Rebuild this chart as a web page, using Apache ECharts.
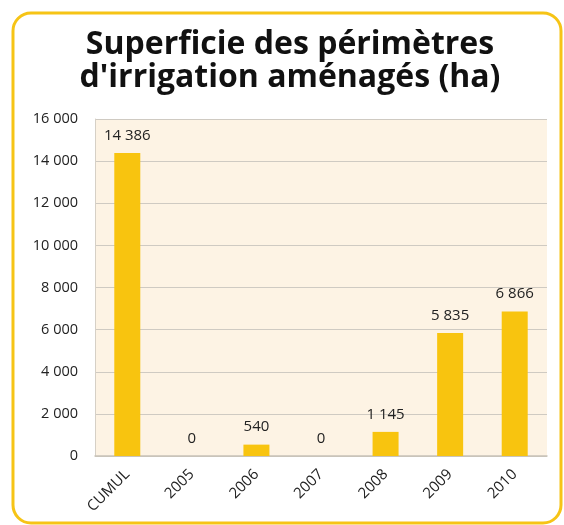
<!DOCTYPE html>
<html>
<head>
    <meta charset="utf-8">
    <title>Superficie des périmètres</title>
    <script src="https://cdn.jsdelivr.net/npm/echarts@6/dist/echarts.min.js"></script>
    <style>
        html, body { margin: 0; padding: 0; background: #fff; }
    </style>
</head>
<body>
    <div id="main" style="width: 564px;height:525px;"></div>
    <script type="text/javascript">
        // données
        var categories = ['CUMUL', '2005', '2006', '2007', '2008', '2009', '2010'];
        var surfaces = [14386, 0, 540, 0, 1145, 5835, 6866];
        var yMin = 0, yMax = 16000, yStep = 2000;

        function fmt(v) {
            return String(v).replace(/\B(?=(\d{3})+(?!\d))/g, ' ');
        }

        var myChart = echarts.init(document.getElementById('main'));

        var option = {
            animation: false,
            textStyle: { fontFamily: 'Open Sans' },
            title: {
                text: 'Superficie des périmètres\nd\'irrigation aménagés (ha)',
                left: 285,
                top: 23,
                textAlign: 'center',
                textStyle: {
                    fontFamily: 'Open Sans',
                    fontSize: 32,
                    fontWeight: 'bold',
                    color: '#111',
                    lineHeight: 33
                }
            },
            graphic: [{
                type: 'rect',
                shape: { x: 13, y: 13, width: 548, height: 510, r: 18 },
                style: { fill: 'none', stroke: '#f6c416', lineWidth: 3 },
                z: -1
            }],
            grid: {
                left: 95,
                right: 17,
                top: 119,
                bottom: 69,
                show: true,
                backgroundColor: '#fdf3e4',
                borderWidth: 0
            },
            xAxis: {
                type: 'category',
                data: categories,
                axisLine: { lineStyle: { color: '#c8c2b8', width: 1.5 } },
                axisTick: { inside: true, length: 4, lineStyle: { color: '#b8b2a8' } },
                axisLabel: {
                    rotate: 45,
                    fontSize: 15,
                    color: '#222',
                    margin: 16
                }
            },
            yAxis: {
                type: 'value',
                min: yMin,
                max: yMax,
                interval: yStep,
                axisLine: { show: true, lineStyle: { color: '#d6d0c6' } },
                axisTick: { show: false },
                splitLine: { lineStyle: { color: '#cfcac2', width: 1.2 } },
                axisLabel: {
                    fontSize: 14.5,
                    color: '#222',
                    margin: 17,
                    formatter: function (v) { return fmt(v); }
                }
            },
            series: [{
                type: 'bar',
                data: surfaces,
                barWidth: 26,
                itemStyle: { color: '#f8c40f' },
                label: {
                    show: true,
                    position: 'top',
                    distance: 10,
                    fontSize: 15,
                    color: '#222',
                    formatter: function (p) { return fmt(p.value); }
                }
            }]
        };

        myChart.setOption(option);
    </script>
</body>
</html>
